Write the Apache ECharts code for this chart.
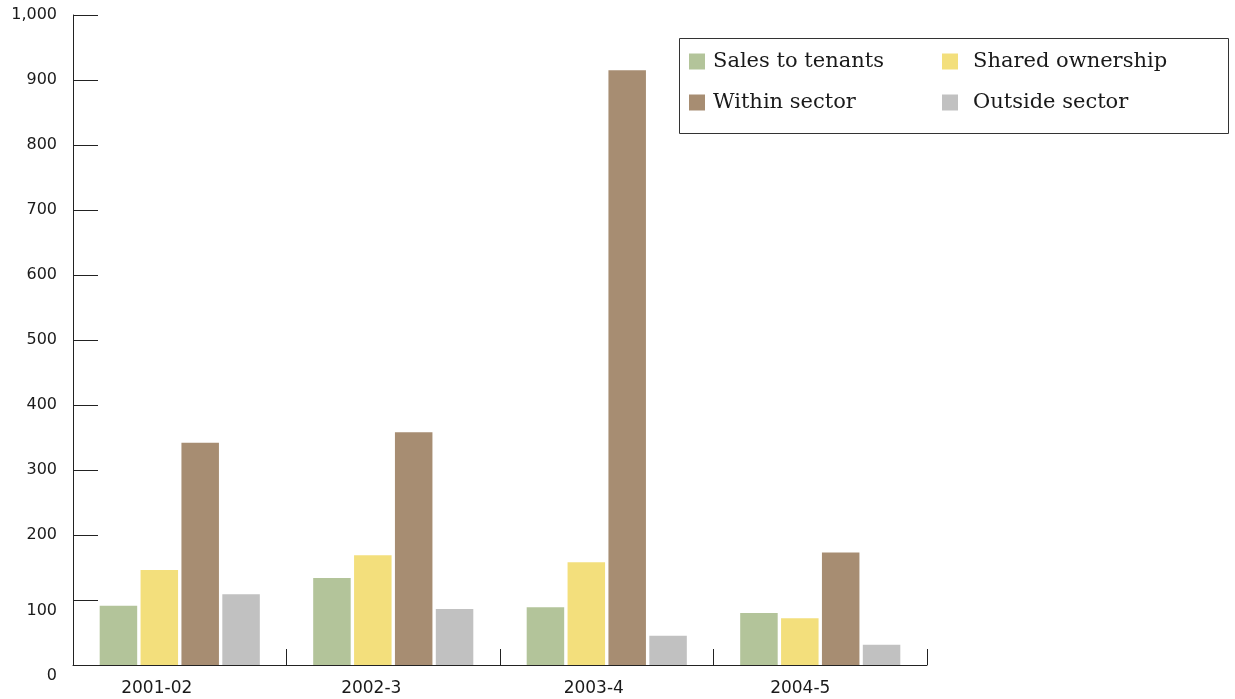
<!DOCTYPE html>
<html>
<head>
<meta charset="utf-8">
<script src="https://cdn.jsdelivr.net/npm/echarts@6/dist/echarts.min.js"></script>
<style>
html,body{margin:0;padding:0;background:#fff;}
#chart{width:1235px;height:699px;}
</style>
</head>
<body>
<div id="chart"></div>
<script>
var categories = ['2001-02', '2002-3', '2003-4', '2004-5'];
var seriesNames = ['Sales to tenants', 'Shared ownership', 'Within sector', 'Outside sector'];
var salesToTenants = [91, 134, 89, 80];
var sharedOwnership = [146, 169, 158, 72];
var withinSector = [342, 358, 915, 173];
var outsideSector = [109, 86, 45, 31];

var colors = ['#b3c49a', '#f3df7c', '#a78d72', '#c1c1c1'];
var chart = echarts.init(document.getElementById('chart'));

var catRich = ['a', 'b', 'c', 'd'];
var option = {
  animation: false,
  backgroundColor: '#fff',
  grid: { left: 73, right: 308, top: 15, bottom: 34, containLabel: false },
  legend: [
    {
      orient: 'vertical', left: 689, top: 51, padding: 0,
      itemWidth: 16, itemHeight: 16, itemGap: 20,
      icon: 'rect',
      data: [seriesNames[0], seriesNames[2]],
      textStyle: { fontFamily: 'DejaVu Serif', fontSize: 21, color: '#1a1a1a', lineHeight: 21, padding: [0, 0, 0, 3] }
    },
    {
      orient: 'vertical', left: 942, top: 51, padding: 0,
      itemWidth: 16, itemHeight: 16, itemGap: 20,
      icon: 'rect',
      data: [seriesNames[1], seriesNames[3]],
      textStyle: { fontFamily: 'DejaVu Serif', fontSize: 21, color: '#1a1a1a', lineHeight: 21, padding: [0, 0, 0, 10] }
    }
  ],
  graphic: [{
    type: 'rect', left: 679, top: 38, z: -1,
    shape: { width: 549, height: 95 },
    style: { fill: '#fff', stroke: '#333', lineWidth: 1 }
  }],
  xAxis: {
    type: 'category',
    data: categories,
    boundaryGap: true,
    axisLine: { lineStyle: { color: '#222', width: 1 } },
    axisTick: { show: true, inside: true, length: 16, interval: 0, alignWithLabel: false, lineStyle: { color: '#222', width: 1 } },
    axisLabel: {
      fontFamily: 'DejaVu Sans', fontSize: 17, color: '#1a1a1a', margin: 15,
      formatter: function (v, i) { return '{' + catRich[i] + '|' + v + '}'; },
      rich: {
        a: { fontFamily: 'DejaVu Sans', fontSize: 17, color: '#1a1a1a', padding: [0, 46, 0, 0] },
        b: { fontFamily: 'DejaVu Sans', fontSize: 17, color: '#1a1a1a', padding: [0, 44, 0, 0] },
        c: { fontFamily: 'DejaVu Sans', fontSize: 17, color: '#1a1a1a', padding: [0, 26, 0, 0] },
        d: { fontFamily: 'DejaVu Sans', fontSize: 17, color: '#1a1a1a', padding: [0, 40, 0, 0] }
      }
    },
    splitLine: { show: false }
  },
  yAxis: {
    type: 'value', min: 0, max: 1000, interval: 100,
    axisLine: { show: true, lineStyle: { color: '#222', width: 1 } },
    axisTick: { show: true, inside: true, length: 25, lineStyle: { color: '#222' } },
    splitLine: { show: false },
    axisLabel: {
      fontFamily: 'DejaVu Sans', fontSize: 16, color: '#1a1a1a', margin: 16,
      formatter: function (v) {
        var s = v.toLocaleString('en-US');
        if (v === 0 || v === 100) return '{lo|' + s + '}';
        return s;
      },
      rich: {
        lo: { fontFamily: 'DejaVu Sans', fontSize: 16, color: '#1a1a1a', padding: [22, 0, 0, 0] }
      }
    }
  },
  series: [
    { name: seriesNames[0], type: 'bar', data: salesToTenants, itemStyle: { color: colors[0] }, barCategoryGap: '25%', barGap: '9%' },
    { name: seriesNames[1], type: 'bar', data: sharedOwnership, itemStyle: { color: colors[1] }, barCategoryGap: '25%', barGap: '9%' },
    { name: seriesNames[2], type: 'bar', data: withinSector, itemStyle: { color: colors[2] }, barCategoryGap: '25%', barGap: '9%' },
    { name: seriesNames[3], type: 'bar', data: outsideSector, itemStyle: { color: colors[3] }, barCategoryGap: '25%', barGap: '9%' }
  ]
};
chart.setOption(option);
</script>
</body>
</html>
